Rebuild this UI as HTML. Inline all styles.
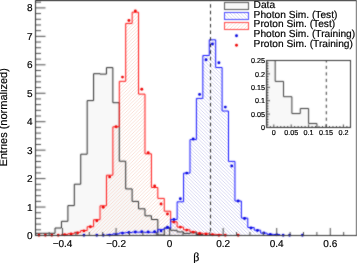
<!DOCTYPE html>
<html><head><meta charset="utf-8"><style>
html,body{margin:0;padding:0;background:#fff;width:357px;height:263px;overflow:hidden}
svg{display:block;will-change:transform}
</style></head><body>
<svg width="357" height="263" viewBox="0 0 357 263">
<defs>
<pattern id="hr" patternUnits="userSpaceOnUse" width="3.5" height="3.5">
<path d="M-1,1 L1,-1 M0,3.5 L3.5,0 M2.5,4.5 L4.5,2.5" stroke="#f7d4c6" stroke-width="0.65"/>
</pattern>
<pattern id="hb" patternUnits="userSpaceOnUse" width="3.5" height="3.5">
<path d="M-1,2.5 L1,4.5 M0,0 L3.5,3.5 M2.5,-1 L4.5,1" stroke="#c6c6ee" stroke-width="0.65"/>
</pattern>
<filter id="soft" filterUnits="userSpaceOnUse" x="0" y="0" width="357" height="263" color-interpolation-filters="sRGB"><feConvolveMatrix order="3" kernelMatrix="1 2 1 2 12 2 1 2 1" edgeMode="none" preserveAlpha="false"/></filter>
</defs>
<g>
<rect width="357" height="263" fill="#fff"/>
<polygon points="35.75,235.00 35.75,233.30 42.18,233.30 42.18,233.30 48.60,233.30 48.60,233.30 55.03,233.30 55.03,228.00 61.45,228.00 61.45,221.30 67.88,221.30 67.88,205.60 74.31,205.60 74.31,184.20 80.73,184.20 80.73,154.20 87.16,154.20 87.16,100.60 93.58,100.60 93.58,73.70 100.01,73.70 100.01,74.10 106.44,74.10 106.44,67.60 112.86,67.60 112.86,102.70 119.29,102.70 119.29,161.20 125.71,161.20 125.71,188.90 132.14,188.90 132.14,201.40 138.57,201.40 138.57,208.80 144.99,208.80 144.99,215.80 151.42,215.80 151.42,219.50 157.84,219.50 157.84,235.00 164.27,235.00 164.27,227.90 170.70,227.90 170.70,230.30 177.12,230.30 177.12,231.90 183.55,231.90 183.55,233.40 189.97,233.40 189.97,232.80 196.40,232.80 196.40,234.60 202.83,234.60 202.83,235.00" fill="#f8f8f8"/>
<polygon points="61.45,235.00 61.45,234.40 67.88,234.40 67.88,233.70 74.31,233.70 74.31,232.30 80.73,232.30 80.73,230.50 87.16,230.50 87.16,226.70 93.58,226.70 93.58,219.70 100.01,219.70 100.01,205.80 106.44,205.80 106.44,175.20 112.86,175.20 112.86,126.80 119.29,126.80 119.29,81.30 125.71,81.30 125.71,23.40 132.14,23.40 132.14,12.20 138.57,12.20 138.57,94.10 144.99,94.10 144.99,153.80 151.42,153.80 151.42,187.50 157.84,187.50 157.84,198.40 164.27,198.40 164.27,211.20 170.70,211.20 170.70,221.80 177.12,221.80 177.12,227.10 183.55,227.10 183.55,229.80 189.97,229.80 189.97,231.80 196.40,231.80 196.40,233.20 202.83,233.20 202.83,233.80 209.25,233.80 209.25,234.30 215.68,234.30 215.68,234.70 222.10,234.70 222.10,235.00" fill="url(#hr)"/>
<polygon points="106.44,235.00 106.44,234.80 112.86,234.80 112.86,233.80 119.29,233.80 119.29,232.90 125.71,232.90 125.71,232.50 132.14,232.50 132.14,232.10 138.57,232.10 138.57,232.20 144.99,232.20 144.99,232.30 151.42,232.30 151.42,232.30 157.84,232.30 157.84,229.40 164.27,229.40 164.27,228.20 170.70,228.20 170.70,219.50 177.12,219.50 177.12,201.80 183.55,201.80 183.55,173.10 189.97,173.10 189.97,139.60 196.40,139.60 196.40,98.40 202.83,98.40 202.83,55.50 209.25,55.50 209.25,39.80 215.68,39.80 215.68,67.50 222.10,67.50 222.10,111.00 228.53,111.00 228.53,161.40 234.96,161.40 234.96,201.00 241.38,201.00 241.38,218.10 247.81,218.10 247.81,227.50 254.23,227.50 254.23,230.20 260.66,230.20 260.66,233.10 267.09,233.10 267.09,234.30 273.51,234.30 273.51,234.50 279.94,234.50 279.94,235.00" fill="url(#hb)"/>
<rect x="224.5" y="2.5" width="24" height="7" fill="#f8f8f8"/>
<rect x="224.5" y="12.5" width="24" height="7" fill="url(#hb)"/>
<rect x="224.5" y="22.5" width="24" height="7" fill="url(#hr)"/>
<rect x="266.5" y="60" width="84" height="67.5" fill="#fff"/>
<polygon points="266.84,127.50 266.84,60.50 275.19,60.50 275.19,81.40 283.54,81.40 283.54,96.68 291.90,96.68 291.90,113.56 300.25,113.56 300.25,108.47 308.60,108.47 308.60,123.48 316.95,123.48 316.95,127.50" fill="#f8f8f8"/>
</g>
<g filter="url(#soft)">
<polyline points="35.75,235.00 35.75,233.30 42.18,233.30 42.18,233.30 48.60,233.30 48.60,233.30 55.03,233.30 55.03,228.00 61.45,228.00 61.45,221.30 67.88,221.30 67.88,205.60 74.31,205.60 74.31,184.20 80.73,184.20 80.73,154.20 87.16,154.20 87.16,100.60 93.58,100.60 93.58,73.70 100.01,73.70 100.01,74.10 106.44,74.10 106.44,67.60 112.86,67.60 112.86,102.70 119.29,102.70 119.29,161.20 125.71,161.20 125.71,188.90 132.14,188.90 132.14,201.40 138.57,201.40 138.57,208.80 144.99,208.80 144.99,215.80 151.42,215.80 151.42,219.50 157.84,219.50 157.84,235.00 164.27,235.00 164.27,227.90 170.70,227.90 170.70,230.30 177.12,230.30 177.12,231.90 183.55,231.90 183.55,233.40 189.97,233.40 189.97,232.80 196.40,232.80 196.40,234.60 202.83,234.60 202.83,235.00" fill="none" stroke="#2a2a2a" stroke-width="1"/>
<polyline points="61.45,235.00 61.45,234.40 67.88,234.40 67.88,233.70 74.31,233.70 74.31,232.30 80.73,232.30 80.73,230.50 87.16,230.50 87.16,226.70 93.58,226.70 93.58,219.70 100.01,219.70 100.01,205.80 106.44,205.80 106.44,175.20 112.86,175.20 112.86,126.80 119.29,126.80 119.29,81.30 125.71,81.30 125.71,23.40 132.14,23.40 132.14,12.20 138.57,12.20 138.57,94.10 144.99,94.10 144.99,153.80 151.42,153.80 151.42,187.50 157.84,187.50 157.84,198.40 164.27,198.40 164.27,211.20 170.70,211.20 170.70,221.80 177.12,221.80 177.12,227.10 183.55,227.10 183.55,229.80 189.97,229.80 189.97,231.80 196.40,231.80 196.40,233.20 202.83,233.20 202.83,233.80 209.25,233.80 209.25,234.30 215.68,234.30 215.68,234.70 222.10,234.70 222.10,235.00" fill="none" stroke="#ff1010" stroke-width="1"/>
<polyline points="106.44,235.00 106.44,234.80 112.86,234.80 112.86,233.80 119.29,233.80 119.29,232.90 125.71,232.90 125.71,232.50 132.14,232.50 132.14,232.10 138.57,232.10 138.57,232.20 144.99,232.20 144.99,232.30 151.42,232.30 151.42,232.30 157.84,232.30 157.84,229.40 164.27,229.40 164.27,228.20 170.70,228.20 170.70,219.50 177.12,219.50 177.12,201.80 183.55,201.80 183.55,173.10 189.97,173.10 189.97,139.60 196.40,139.60 196.40,98.40 202.83,98.40 202.83,55.50 209.25,55.50 209.25,39.80 215.68,39.80 215.68,67.50 222.10,67.50 222.10,111.00 228.53,111.00 228.53,161.40 234.96,161.40 234.96,201.00 241.38,201.00 241.38,218.10 247.81,218.10 247.81,227.50 254.23,227.50 254.23,230.20 260.66,230.20 260.66,233.10 267.09,233.10 267.09,234.30 273.51,234.30 273.51,234.50 279.94,234.50 279.94,235.00" fill="none" stroke="#1010ff" stroke-width="1"/>
<circle cx="38.96" cy="235.20" r="1.45" fill="#ee0000"/>
<circle cx="45.39" cy="235.20" r="1.45" fill="#ee0000"/>
<circle cx="51.81" cy="235.20" r="1.45" fill="#ee0000"/>
<circle cx="58.24" cy="235.20" r="1.45" fill="#ee0000"/>
<circle cx="64.67" cy="234.70" r="1.45" fill="#ee0000"/>
<circle cx="71.09" cy="234.00" r="1.45" fill="#ee0000"/>
<circle cx="77.52" cy="233.00" r="1.45" fill="#ee0000"/>
<circle cx="83.94" cy="230.90" r="1.45" fill="#ee0000"/>
<circle cx="90.37" cy="226.70" r="1.45" fill="#ee0000"/>
<circle cx="96.80" cy="220.70" r="1.45" fill="#ee0000"/>
<circle cx="103.22" cy="207.20" r="1.45" fill="#ee0000"/>
<circle cx="109.65" cy="176.90" r="1.45" fill="#ee0000"/>
<circle cx="116.08" cy="126.80" r="1.45" fill="#ee0000"/>
<circle cx="122.50" cy="77.10" r="1.45" fill="#ee0000"/>
<circle cx="128.93" cy="20.50" r="1.45" fill="#ee0000"/>
<circle cx="135.35" cy="11.00" r="1.45" fill="#ee0000"/>
<circle cx="141.78" cy="89.20" r="1.45" fill="#ee0000"/>
<circle cx="148.20" cy="152.80" r="1.45" fill="#ee0000"/>
<circle cx="154.63" cy="186.00" r="1.45" fill="#ee0000"/>
<circle cx="161.06" cy="204.00" r="1.45" fill="#ee0000"/>
<circle cx="167.48" cy="214.00" r="1.45" fill="#ee0000"/>
<circle cx="173.91" cy="222.10" r="1.45" fill="#ee0000"/>
<circle cx="180.34" cy="227.10" r="1.45" fill="#ee0000"/>
<circle cx="186.76" cy="230.10" r="1.45" fill="#ee0000"/>
<circle cx="193.19" cy="232.10" r="1.45" fill="#ee0000"/>
<circle cx="199.61" cy="233.50" r="1.45" fill="#ee0000"/>
<circle cx="206.04" cy="234.00" r="1.45" fill="#ee0000"/>
<circle cx="212.47" cy="234.70" r="1.45" fill="#ee0000"/>
<circle cx="218.89" cy="235.20" r="1.45" fill="#ee0000"/>
<circle cx="225.32" cy="235.20" r="1.45" fill="#ee0000"/>
<circle cx="238.17" cy="235.20" r="1.45" fill="#ee0000"/>
<circle cx="83.94" cy="235.30" r="1.45" fill="#0000e0"/>
<circle cx="96.80" cy="235.30" r="1.45" fill="#0000e0"/>
<circle cx="103.22" cy="235.30" r="1.45" fill="#0000e0"/>
<circle cx="109.65" cy="235.10" r="1.45" fill="#0000e0"/>
<circle cx="116.08" cy="234.60" r="1.45" fill="#0000e0"/>
<circle cx="122.50" cy="233.10" r="1.45" fill="#0000e0"/>
<circle cx="128.93" cy="232.50" r="1.45" fill="#0000e0"/>
<circle cx="135.35" cy="232.00" r="1.45" fill="#0000e0"/>
<circle cx="141.78" cy="231.80" r="1.45" fill="#0000e0"/>
<circle cx="148.20" cy="232.00" r="1.45" fill="#0000e0"/>
<circle cx="154.63" cy="231.80" r="1.45" fill="#0000e0"/>
<circle cx="161.06" cy="231.00" r="1.45" fill="#0000e0"/>
<circle cx="167.48" cy="227.30" r="1.45" fill="#0000e0"/>
<circle cx="173.91" cy="219.50" r="1.45" fill="#0000e0"/>
<circle cx="180.34" cy="198.80" r="1.45" fill="#0000e0"/>
<circle cx="186.76" cy="173.10" r="1.45" fill="#0000e0"/>
<circle cx="193.19" cy="139.00" r="1.45" fill="#0000e0"/>
<circle cx="199.61" cy="94.40" r="1.45" fill="#0000e0"/>
<circle cx="206.04" cy="59.70" r="1.45" fill="#0000e0"/>
<circle cx="212.47" cy="44.00" r="1.45" fill="#0000e0"/>
<circle cx="218.89" cy="62.70" r="1.45" fill="#0000e0"/>
<circle cx="225.32" cy="107.10" r="1.45" fill="#0000e0"/>
<circle cx="231.74" cy="166.00" r="1.45" fill="#0000e0"/>
<circle cx="238.17" cy="201.00" r="1.45" fill="#0000e0"/>
<circle cx="244.59" cy="218.50" r="1.45" fill="#0000e0"/>
<circle cx="251.02" cy="228.00" r="1.45" fill="#0000e0"/>
<circle cx="257.45" cy="230.50" r="1.45" fill="#0000e0"/>
<circle cx="263.87" cy="233.00" r="1.45" fill="#0000e0"/>
<circle cx="270.30" cy="234.50" r="1.45" fill="#0000e0"/>
<circle cx="276.73" cy="234.70" r="1.45" fill="#0000e0"/>
<circle cx="283.15" cy="235.20" r="1.45" fill="#0000e0"/>
<circle cx="289.58" cy="235.30" r="1.45" fill="#0000e0"/>
<circle cx="302.43" cy="235.30" r="1.45" fill="#0000e0"/>
<line x1="210.5" y1="0" x2="210.5" y2="235" stroke="#222" stroke-width="1" stroke-dasharray="3.5,3.08" stroke-dashoffset="2.38"/>
<path d="M35,0.5H357" stroke="#000" stroke-width="1"/>
<path d="M35.5,0V236" stroke="#2a2a2a" stroke-width="1"/>
<path d="M356.5,0V236" stroke="#505050" stroke-width="1"/>
<path d="M35,235.5H357" stroke="#333" stroke-width="1"/>
<path d="M36,229.81h5 M36,224.12h5 M36,218.43h5 M36,212.74h5 M36,207.05h9.5 M36,201.36h5 M36,195.67h5 M36,189.98h5 M36,184.29h5 M36,178.60h9.5 M36,172.91h5 M36,167.22h5 M36,161.53h5 M36,155.84h5 M36,150.15h9.5 M36,144.46h5 M36,138.77h5 M36,133.08h5 M36,127.39h5 M36,121.70h9.5 M36,116.01h5 M36,110.32h5 M36,104.63h5 M36,98.94h5 M36,93.25h9.5 M36,87.56h5 M36,81.87h5 M36,76.18h5 M36,70.49h5 M36,64.80h9.5 M36,59.11h5 M36,53.42h5 M36,47.73h5 M36,42.04h5 M36,36.35h9.5 M36,30.66h5 M36,24.97h5 M36,19.28h5 M36,13.59h5 M36,7.90h9.5 M36,2.21h5 M49.14,235v-3.0 M62.52,235v-7 M75.91,235v-3.0 M89.30,235v-3.0 M102.69,235v-3.0 M116.08,235v-7 M129.46,235v-3.0 M142.85,235v-3.0 M156.24,235v-3.0 M169.62,235v-7 M183.01,235v-3.0 M196.40,235v-3.0 M209.79,235v-3.0 M223.18,235v-7 M236.56,235v-3.0 M249.95,235v-3.0 M263.34,235v-3.0 M276.73,235v-7 M290.11,235v-3.0 M303.50,235v-3.0 M316.89,235v-3.0 M330.28,235v-7 M343.66,235v-3.0" stroke="#4a4a4a" stroke-width="1" fill="none"/>
<rect x="224.5" y="2.5" width="24" height="7" fill="none" stroke="#555" stroke-width="1"/>
<rect x="224.5" y="12.5" width="24" height="7" fill="none" stroke="#4848ff" stroke-width="1"/>
<rect x="224.5" y="22.5" width="24" height="7" fill="none" stroke="#ff4848" stroke-width="1"/>
<circle cx="236.5" cy="35.7" r="1.45" fill="#0000e0"/>
<circle cx="236.5" cy="45.3" r="1.45" fill="#ee0000"/>
<polyline points="266.84,127.50 266.84,60.50 275.19,60.50 275.19,81.40 283.54,81.40 283.54,96.68 291.90,96.68 291.90,113.56 300.25,113.56 300.25,108.47 308.60,108.47 308.60,123.48 316.95,123.48 316.95,127.50" fill="none" stroke="#3a3a3a" stroke-width="1"/>
<line x1="326.30" y1="60" x2="326.30" y2="127" stroke="#333" stroke-width="1" stroke-dasharray="3.1,3.375" stroke-dashoffset="0.6"/>
<path d="M266,60.5H351M266.5,60V128M350.5,60V128M266,127.5H351" fill="none" stroke="#333" stroke-width="1"/>
<path d="M267,127.50h3 M267,124.82h1.5 M267,122.14h1.5 M267,119.46h1.5 M267,116.78h1.5 M267,114.10h3 M267,111.42h1.5 M267,108.74h1.5 M267,106.06h1.5 M267,103.38h1.5 M267,100.70h3 M267,98.02h1.5 M267,95.34h1.5 M267,92.66h1.5 M267,89.98h1.5 M267,87.30h3 M267,84.62h1.5 M267,81.94h1.5 M267,79.26h1.5 M267,76.58h1.5 M267,73.90h3 M267,71.22h1.5 M267,68.54h1.5 M267,65.86h1.5 M267,63.18h1.5 M267,60.50h3 M270.32,127.5v-1.5 M273.80,127.5v-3 M277.28,127.5v-1.5 M280.76,127.5v-1.5 M284.24,127.5v-1.5 M287.72,127.5v-1.5 M291.20,127.5v-3 M294.68,127.5v-1.5 M298.16,127.5v-1.5 M301.64,127.5v-1.5 M305.12,127.5v-1.5 M308.60,127.5v-3 M312.08,127.5v-1.5 M315.56,127.5v-1.5 M319.04,127.5v-1.5 M322.52,127.5v-1.5 M326.00,127.5v-3 M329.48,127.5v-1.5 M332.96,127.5v-1.5 M336.44,127.5v-1.5 M339.92,127.5v-1.5 M343.40,127.5v-3 M346.88,127.5v-1.5 M350.36,127.5v-1.5" stroke="#333" stroke-width="0.9" fill="none"/>
</g>
<g text-rendering="geometricPrecision" font-family="Liberation Sans, sans-serif" fill="#000" stroke="#000" stroke-width="0.18" font-size="10"><text transform="translate(32.5,239.30)" text-anchor="end">0</text><text transform="translate(32.5,210.80)" text-anchor="end">1</text><text transform="translate(32.5,182.30)" text-anchor="end">2</text><text transform="translate(32.5,153.80)" text-anchor="end">3</text><text transform="translate(32.5,125.30)" text-anchor="end">4</text><text transform="translate(32.5,96.80)" text-anchor="end">5</text><text transform="translate(32.5,68.30)" text-anchor="end">6</text><text transform="translate(32.5,39.80)" text-anchor="end">7</text><text transform="translate(32.5,11.30)" text-anchor="end">8</text><text transform="translate(62.52,247.0)" text-anchor="middle">−0.4</text><text transform="translate(116.08,247.0)" text-anchor="middle">−0.2</text><text transform="translate(169.62,247.0)" text-anchor="middle">0</text><text transform="translate(223.17,247.0)" text-anchor="middle">0.2</text><text transform="translate(276.73,247.0)" text-anchor="middle">0.4</text><text transform="translate(330.28,247.0)" text-anchor="middle">0.6</text></g>
<text transform="translate(7.3,117.4) rotate(-90)" text-anchor="middle" text-rendering="geometricPrecision" font-family="Liberation Sans, sans-serif" fill="#000" stroke="#000" stroke-width="0.18" font-size="11">Entries (normalized)</text>
<text x="196.3" y="260.5" text-anchor="middle" text-rendering="geometricPrecision" font-family="Liberation Serif, serif" font-size="12" fill="#000" stroke="#000" stroke-width="0.2">β</text>
<g text-rendering="geometricPrecision" font-family="Liberation Sans, sans-serif" fill="#000" stroke="#000" stroke-width="0.18" font-size="10.2"><text x="253.6" y="8.2">Data</text><text x="253.6" y="18.0">Photon Sim. (Test)</text><text x="253.6" y="27.4">Proton Sim. (Test)</text><text x="253.6" y="37.1">Photon Sim. (Training)</text><text x="253.6" y="46.9">Proton Sim. (Training)</text></g>
<g text-rendering="geometricPrecision" font-family="Liberation Sans, sans-serif" fill="#000" stroke="#000" stroke-width="0.18" font-size="7.2"><text x="265" y="130.10" text-anchor="end">0</text><text x="265" y="116.70" text-anchor="end">0.05</text><text x="265" y="103.30" text-anchor="end">0.1</text><text x="265" y="89.90" text-anchor="end">0.15</text><text x="265" y="76.50" text-anchor="end">0.2</text><text x="265" y="63.10" text-anchor="end">0.25</text><text x="273.80" y="135" text-anchor="middle">0</text><text x="291.20" y="135" text-anchor="middle">0.05</text><text x="308.60" y="135" text-anchor="middle">0.1</text><text x="326.00" y="135" text-anchor="middle">0.15</text><text x="343.40" y="135" text-anchor="middle">0.2</text></g>
</svg>
</body></html>
